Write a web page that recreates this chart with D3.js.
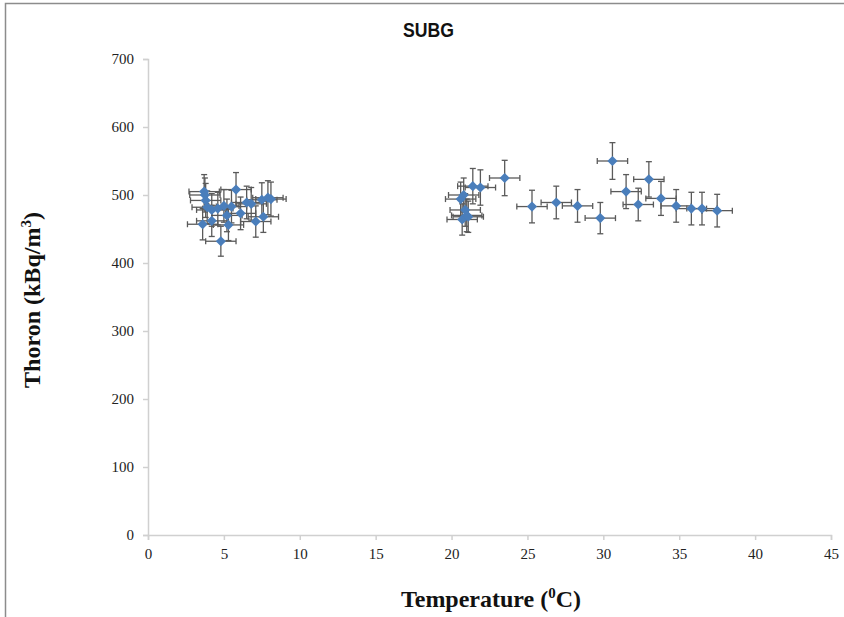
<!DOCTYPE html>
<html><head><meta charset="utf-8">
<script src="https://cdn.jsdelivr.net/npm/d3@7"></script>
<style>body{margin:0;background:#fff}svg{display:block}</style>
</head><body>
<svg id="c" width="844" height="617"></svg>
<script>
const temperature = [3.6,3.7,3.75,3.8,3.9,4.2,4.2,4.6,4.8,5.0,5.2,5.3,5.5,5.8,6.1,6.5,6.8,7.1,7.5,7.6,7.9,8.1,
  20.6,20.7,20.8,20.9,21.0,21.1,21.4,21.9,23.5,25.3,26.9,28.3,29.8,30.6,31.5,32.3,33.0,33.8,34.8,35.8,36.5,37.5];
const thoron = [457,505,500,492,482,478,462,480,432,484,470,456,483,508,473,489,487,461,493,468,496,494,
  494,464,500,478,470,468,513,511,525,483,489,484,466,550,505,486,523,495,484,480,480,477];
const tempErr = [1,1,1,1,1,1,1,1,1,1,1,1,1,1,1,1,1,1,1,1,1,1,
  1,1,1,1,1,1,1,1,1,1,1,1,1,1,1,1,1,1,1,1,1,1];
const thoronErr = [23,25,25,25,24,24,23,24,22,24,24,23,24,25,24,24,24,23,25,23,25,25,
  25,23,25,24,24,23,26,26,26,24,24,24,23,27,25,24,26,25,24,24,24,24];
const xTicks = [0,5,10,15,20,25,30,35,40,45];
const yTicks = [0,100,200,300,400,500,600,700];

const svg = d3.select("#c");
const x = d3.scaleLinear().domain([0,45]).range([148,831]);
const y = d3.scaleLinear().domain([0,700]).range([535,59]);

// frame
svg.append("rect").attr("x",5.5).attr("y",3.5).attr("width",900).attr("height",700)
  .attr("fill","none").attr("stroke","#8c8c8c").attr("stroke-width",1.5);

// title
svg.append("text").attr("x",428.5).attr("y",37).attr("text-anchor","middle")
  .attr("font-family","Liberation Sans, Arial, sans-serif").attr("font-weight","bold")
  .attr("font-size",20).attr("textLength",51).attr("lengthAdjust","spacingAndGlyphs")
  .attr("fill","#111").text("SUBG");

// axes
const axisColor = "#d0d0d0";
const gx = svg.append("g").attr("transform","translate(0,535)")
  .call(d3.axisBottom(x).tickValues(xTicks).tickSize(5).tickPadding(5).tickFormat(d3.format("d")));
const gy = svg.append("g").attr("transform","translate(148,0)")
  .call(d3.axisLeft(y).tickValues(yTicks).tickSize(5).tickPadding(9).tickFormat(d3.format("d")));
[gx,gy].forEach(g=>{
  g.select(".domain").attr("stroke",axisColor).attr("stroke-width",1.5);
  g.selectAll(".tick line").attr("stroke",axisColor).attr("stroke-width",1.5);
  g.selectAll(".tick text").attr("font-family","Liberation Serif, Times New Roman, serif")
    .attr("font-size",15).attr("fill","#222");
});
gx.selectAll(".tick text").attr("dy","0.9em");

// axis titles
const xt = svg.append("text").attr("x",491).attr("y",607).attr("text-anchor","middle")
  .attr("font-family","Liberation Serif, Times New Roman, serif").attr("font-weight","bold")
  .attr("font-size",24).attr("fill","#111");
xt.append("tspan").text("Temperature (");
xt.append("tspan").attr("font-size",15).attr("dy",-9).text("0");
xt.append("tspan").attr("dy",9).text("C)");

const yt = svg.append("text").attr("transform","translate(40,300) rotate(-90)").attr("text-anchor","middle")
  .attr("font-family","Liberation Serif, Times New Roman, serif").attr("font-weight","bold")
  .attr("font-size",24).attr("fill","#111");
yt.append("tspan").text("Thoron (kBq/m");
yt.append("tspan").attr("font-size",15).attr("dy",-9).text("3");
yt.append("tspan").attr("dy",9).text(")");

// data
const data = temperature.map((t,i)=>({t, v:thoron[i], et:tempErr[i], ev:thoronErr[i]}));
const eb = svg.append("g").attr("stroke","#5a5a5a").attr("stroke-width",1.3).attr("fill","none");
const cap = 3;
data.forEach(d=>{
  const cx = x(d.t), cy = y(d.v);
  const x0 = x(d.t-d.et), x1 = x(d.t+d.et), y0 = y(d.v-d.ev), y1 = y(d.v+d.ev);
  eb.append("line").attr("x1",x0).attr("x2",x1).attr("y1",cy).attr("y2",cy);
  eb.append("line").attr("x1",x0).attr("x2",x0).attr("y1",cy-cap).attr("y2",cy+cap);
  eb.append("line").attr("x1",x1).attr("x2",x1).attr("y1",cy-cap).attr("y2",cy+cap);
  eb.append("line").attr("x1",cx).attr("x2",cx).attr("y1",y0).attr("y2",y1);
  eb.append("line").attr("x1",cx-cap).attr("x2",cx+cap).attr("y1",y0).attr("y2",y0);
  eb.append("line").attr("x1",cx-cap).attr("x2",cx+cap).attr("y1",y1).attr("y2",y1);
});
svg.append("g").selectAll("path").data(data).join("path")
  .attr("d", d3.symbol(d3.symbolSquare, 52)())
  .attr("transform", d=>`translate(${x(d.t)},${y(d.v)}) rotate(45)`)
  .attr("fill","#4a7ebb");
</script>
</body></html>
